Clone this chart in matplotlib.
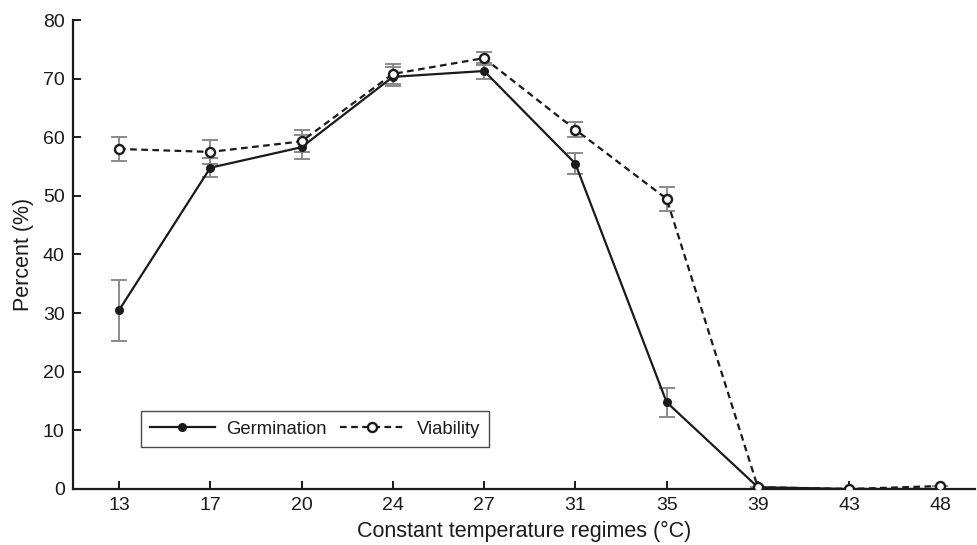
import matplotlib
matplotlib.use('Agg')
import matplotlib.pyplot as plt

plt.rcParams['font.family'] = ['Liberation Sans', 'DejaVu Sans']

temps = ['13', '17', '20', '24', '27', '31', '35', '39', '43', '48']
germination = [30.5, 54.8, 58.3, 70.3, 71.3, 55.5, 14.8, 0.3, 0.0, 0.0]
germination_err = [5.2, 1.6, 2.0, 1.6, 1.3, 1.8, 2.5, 0.0, 0.0, 0.0]
viability = [58.0, 57.5, 59.3, 70.8, 73.5, 61.3, 49.5, 0.3, 0.0, 0.5]
viability_err = [2.0, 2.0, 1.9, 1.7, 1.1, 1.3, 2.0, 0.0, 0.0, 0.0]

x = list(range(len(temps)))

fig = plt.figure(figsize=(9.78, 5.45), dpi=100)
ax = fig.add_axes([0.0746, 0.1028, 0.9224, 0.8605])

ax.errorbar(x, germination, yerr=germination_err, fmt='none', ecolor='#8a8a8a',
            elinewidth=1.4, capsize=6, capthick=1.4, zorder=1)
ax.errorbar(x, viability, yerr=viability_err, fmt='none', ecolor='#8a8a8a',
            elinewidth=1.4, capsize=6, capthick=1.4, zorder=1)

ax.plot(x, germination, '-', color='#1a1a1a', lw=1.6, marker='o', ms=5.5,
        mfc='#1a1a1a', mec='#1a1a1a', label='Germination', zorder=3)
ax.plot(x, viability, '--', color='#1a1a1a', lw=1.6, marker='o', ms=6.5,
        mfc='white', mec='#1a1a1a', mew=1.7, label='Viability', zorder=3,
        dashes=(3, 2))

ax.set_xlim(-0.505, 9.38)
ax.set_ylim(0, 80)
ax.set_xticks(x)
ax.set_xticklabels(temps)
ax.set_yticks(range(0, 81, 10))

for s in ['top', 'right']:
    ax.spines[s].set_visible(False)
for s in ['left', 'bottom']:
    ax.spines[s].set_linewidth(1.6)
    ax.spines[s].set_color('#1a1a1a')

ax.tick_params(direction='in', length=6, width=1.4, labelsize=14,
               color='#1a1a1a', pad=6, labelcolor='#1a1a1a')
ax.set_xlabel('Constant temperature regimes (°C)', fontsize=15.5, labelpad=5,
              color='#1a1a1a')
ax.set_ylabel('Percent (%)', fontsize=15.5, labelpad=6, color='#1a1a1a')

leg = ax.legend(loc='lower left', bbox_to_anchor=(0.075, 0.09), ncol=2,
                fontsize=13.3, frameon=True, fancybox=False, handlelength=3.5,
                columnspacing=0.7, handletextpad=0.65, borderpad=0.5,
                edgecolor='#1a1a1a', borderaxespad=0)
leg.get_frame().set_linewidth(1.0)
for t in leg.get_texts():
    t.set_color('#1a1a1a')

fig.savefig('out.png', dpi=100)
